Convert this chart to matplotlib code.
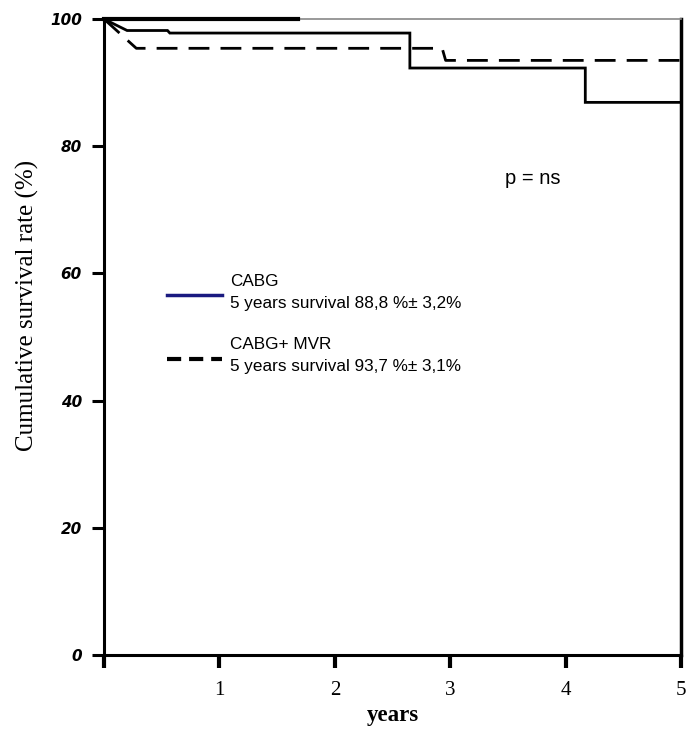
import numpy as np
import matplotlib.pyplot as plt

# Kaplan-Meier curves (years, % survival)
cabg_years = [0, 0.20, 0.55, 0.57, 2.65, 2.65, 4.17, 4.17, 5.0]
cabg_surv = [100, 98.2, 98.2, 97.8, 97.8, 92.3, 92.3, 86.9, 86.9]

mvr_years = [0, 0.28, 2.93, 2.96, 5.0]
mvr_surv = [100, 95.4, 95.4, 93.5, 93.5]

# thick segment along 100 %
top_years = [0, 1.68]
top_surv = [100, 100]

x_ticks = [0, 1, 2, 3, 4, 5]
x_labels = ["", "1", "2", "3", "4", "5"]
y_ticks = [0, 20, 40, 60, 80, 100]
y_labels = ["0", "20", "40", "60", "80", "100"]

fig = plt.figure(figsize=(6.87, 7.33), dpi=100)
ax = fig.add_axes([0.1514, 0.1064, 0.84, 0.8676])

ax.plot(cabg_years, cabg_surv, color="black", lw=2.0, solid_joinstyle="miter")
ax.plot(mvr_years, mvr_surv, color="black", lw=2.0, ls=(0, (7.5, 4)))
ax.plot(top_years, top_surv, color="black", lw=3.0, clip_on=False, zorder=4)

ax.set_xlim(0, 5)
ax.set_ylim(0, 100)

ax.spines["left"].set_linewidth(2.2)
ax.spines["bottom"].set_linewidth(2.2)
ax.spines["right"].set_linewidth(2.5)
ax.spines["top"].set_linewidth(1.2)
ax.spines["top"].set_color("#888888")

ax.set_xticks(x_ticks)
ax.set_xticklabels(x_labels, family="Liberation Serif", fontsize=15)
ax.set_yticks(y_ticks)
ax.set_yticklabels(y_labels, family="DejaVu Sans", fontsize=11,
                   style="italic", weight="semibold")
ax.tick_params(axis="x", direction="out", length=9, width=3, pad=10)
ax.tick_params(axis="y", direction="out", length=9, width=2.2, pad=7)

ax.set_xlabel("years", family="Liberation Serif", fontsize=16.5, weight="bold",
              labelpad=3)
ax.set_ylabel("Cumulative survival rate (%)", family="Liberation Serif",
              fontsize=18)
ax.yaxis.set_label_coords(-0.112, 0.55)

# p-value
ax.text(0.695, 0.75, "p = ns", transform=ax.transAxes, family="Liberation Sans",
        fontsize=14.5, va="center")

# legend drawn by hand
ax.plot([0.109, 0.205], [0.566, 0.566], transform=ax.transAxes,
        color="#1a1a80", lw=2.5)
ax.text(0.218, 0.588, "CABG", transform=ax.transAxes,
        family="Liberation Sans", fontsize=12.3, va="center")
ax.text(0.218, 0.552, "5 years survival 88,8 %\u00b1 3,2%", transform=ax.transAxes,
        family="Liberation Sans", fontsize=12.3, va="center")
ax.plot([0.109, 0.205], [0.465, 0.465], transform=ax.transAxes,
        color="black", lw=3, ls=(0, (3.4, 1.9)))
ax.text(0.218, 0.489, "CABG+ MVR", transform=ax.transAxes,
        family="Liberation Sans", fontsize=12.3, va="center")
ax.text(0.218, 0.453, "5 years survival 93,7 %\u00b1 3,1%", transform=ax.transAxes,
        family="Liberation Sans", fontsize=12.3, va="center")

fig.savefig("out.png", dpi=100)
